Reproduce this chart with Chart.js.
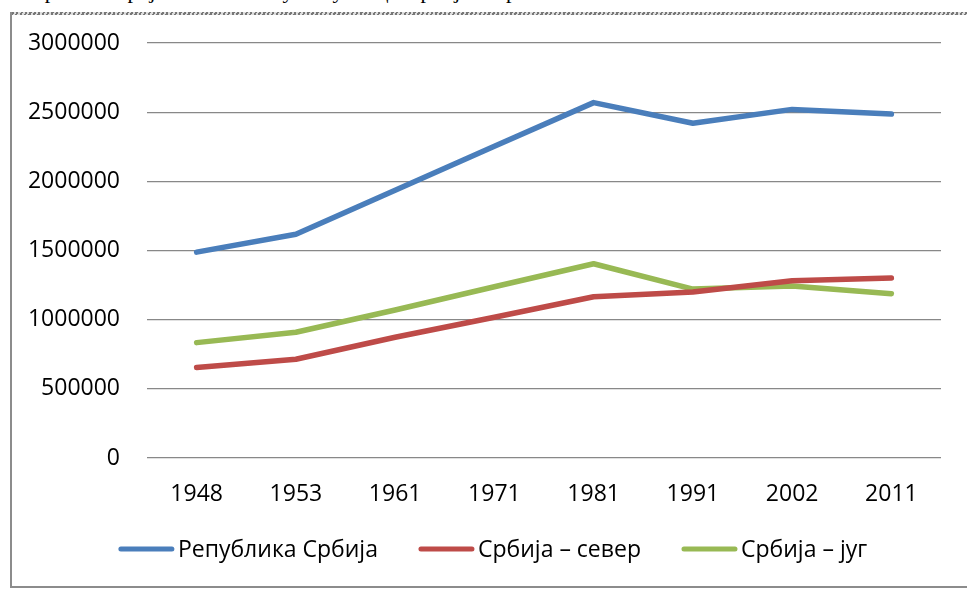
<!DOCTYPE html>
<html>
<head>
<meta charset="utf-8">
<script src="https://cdn.jsdelivr.net/npm/chart.js@4"></script>
<style>
  html, body { margin: 0; padding: 0; background: #fff; overflow: hidden; }
  #wrap { position: relative; width: 967px; height: 590px; }
  #caption {
    position: absolute; left: 30px; top: -22px; white-space: nowrap;
    font-family: "Liberation Serif", serif; font-size: 22px; color: #000;
  }
  #frame {
    position: absolute; left: 10px; top: 12px; width: 970px; height: 574px;
    border-left: 2px solid #8c8c8c; border-bottom: 2px solid #8c8c8c;
  }
  #frame::before {
    content: ""; position: absolute; left: 0; top: 0; right: 0; height: 3px;
    background: repeating-linear-gradient(115deg, #777 0 2px, #ddd 2px 4px);
  }
  canvas { position: absolute; left: 0; top: 0; }
</style>
</head>
<body>
<div id="wrap">
  <div id="caption">Кретање броја становника у Републици Србији по регионима</div>
  <div id="frame"></div>
  <canvas id="graph" width="967" height="590"></canvas>
</div>
<script>
const years = ['1948', '1953', '1961', '1971', '1981', '1991', '2002', '2011'];

const serbiaTotal = [1488000, 1618000, 1936000, 2254000, 2569000, 2420000, 2520000, 2486000];
const serbiaNorth = [654000, 714000, 873000, 1017000, 1166000, 1200000, 1281000, 1301000];
const serbiaSouth = [834000, 909000, 1070000, 1238000, 1404000, 1221000, 1243000, 1188000];

const seriesNames = ['Република Србија', 'Србија – север', 'Србија – југ'];
const seriesColors = ['#4a7ebb', '#be4b48', '#98b954'];

const yTicks = [0, 500000, 1000000, 1500000, 2000000, 2500000, 3000000];

const fontFamily = '"Open Sans", sans-serif';

// legend drawn below the plot, lines + labels taken from the datasets
const lineLegend = {
  id: 'lineLegend',
  afterDraw(chart) {
    const ctx = chart.ctx;
    const lineW = 55, textGap = 4, itemGap = 41, y = 549;
    ctx.save();
    ctx.font = '23px ' + fontFamily;
    const items = chart.data.datasets.map(ds => ({
      ds, w: lineW + textGap + ctx.measureText(ds.label).width
    }));
    const total = items.reduce((s, it) => s + it.w, 0) + itemGap * (items.length - 1);
    let x = 493 - total / 2;
    items.forEach(({ ds, w }) => {
      ctx.strokeStyle = ds.borderColor;
      ctx.lineWidth = 5;
      ctx.lineCap = 'round';
      ctx.beginPath();
      ctx.moveTo(x + 2, y);
      ctx.lineTo(x + lineW - 2, y);
      ctx.stroke();
      ctx.fillStyle = '#000';
      ctx.textBaseline = 'middle';
      ctx.fillText(ds.label, x + lineW + textGap, y + 1);
      x += w + itemGap;
    });
    ctx.restore();
  }
};

const seriesData = [serbiaTotal, serbiaNorth, serbiaSouth];

new Chart(document.getElementById('graph'), {
  type: 'line',
  data: {
    labels: years,
    datasets: seriesData.map((values, i) => ({
      label: seriesNames[i],
      data: values,
      borderColor: seriesColors[i],
      backgroundColor: seriesColors[i],
      borderWidth: 5.5,
      borderCapStyle: 'round',
      borderJoinStyle: 'round',
      pointRadius: 0,
      tension: 0,
    })),
  },
  plugins: [lineLegend],
  options: {
    responsive: false,
    animation: false,
    events: [],
    layout: { padding: { left: 0, right: 26, top: 43, bottom: 0 } },
    plugins: {
      legend: { display: false },
      tooltip: { enabled: false },
    },
    scales: {
      x: {
        offset: true,
        grid: { display: false, drawTicks: false },
        border: { display: false },
        ticks: {
          color: '#000',
          padding: 23,
          maxRotation: 0,
          font: { family: fontFamily, size: 23 },
        },
        afterFit(scale) { scale.height = 132; },
      },
      y: {
        min: 0,
        max: 3000000,
        afterBuildTicks(scale) { scale.ticks = yTicks.map(v => ({ value: v })); },
        grid: { color: '#888888', lineWidth: 1.3, drawTicks: false },
        border: { display: false },
        ticks: {
          color: '#000',
          padding: 27,
          font: { family: fontFamily, size: 23 },
          callback: (v) => String(v),
        },
        afterFit(scale) { scale.width = 147; },
      },
    },
  },
});
</script>
</body>
</html>
